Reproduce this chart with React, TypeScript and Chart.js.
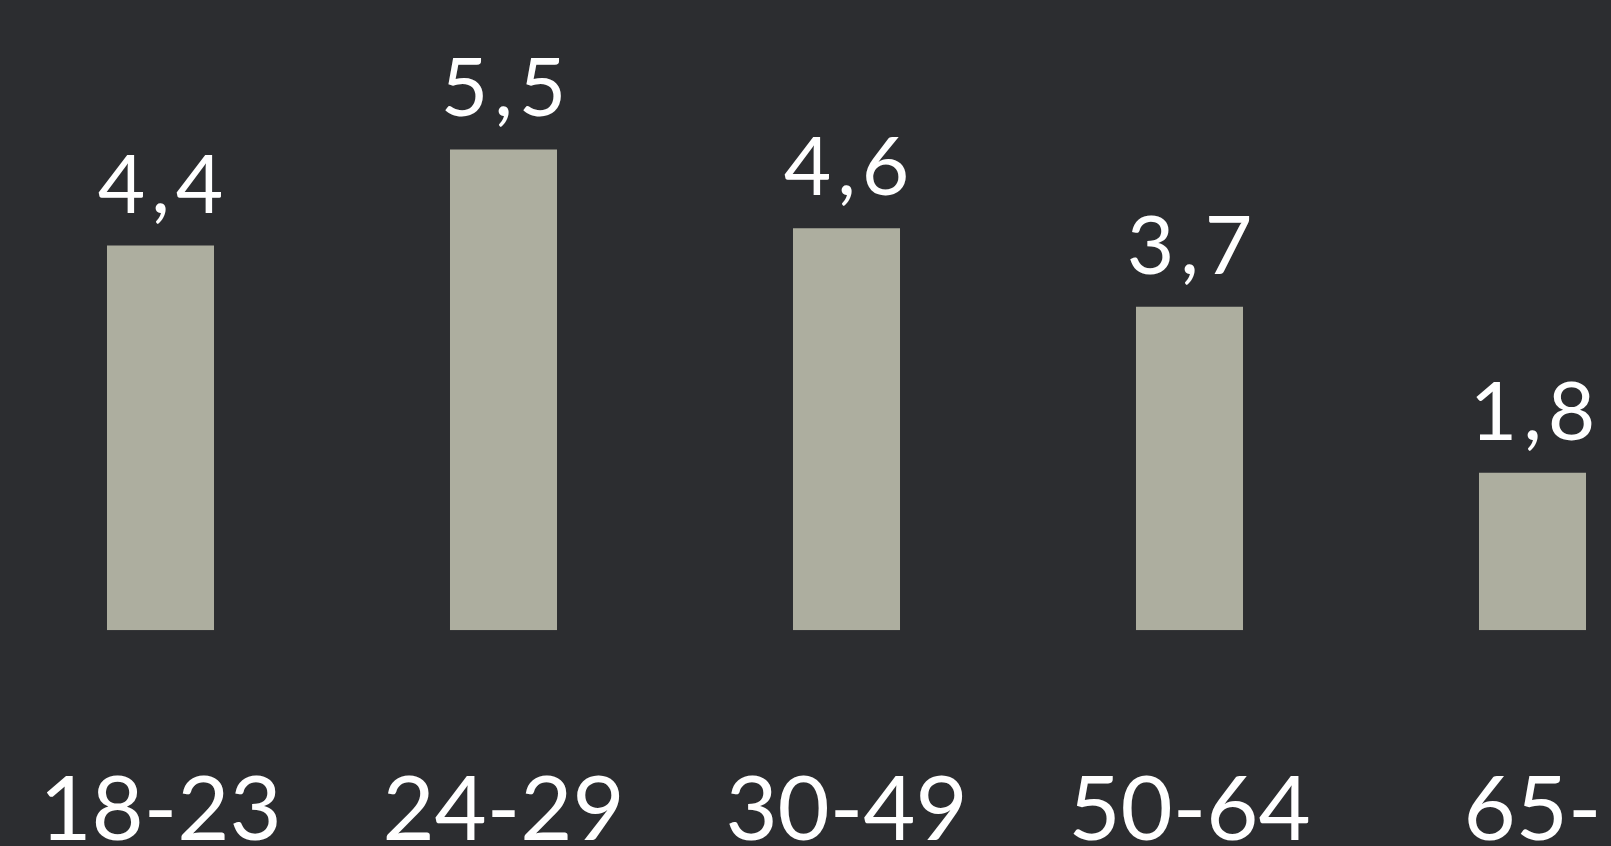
import React, { useEffect, useRef } from 'react';
import { Chart, registerables } from 'chart.js';

Chart.register(...registerables);

const categories: string[] = ['18-23', '24-29', '30-49', '50-64', '65-'];
const values: number[] = [4.4, 5.5, 4.6, 3.7, 1.8];
const yMin = 0;
const yMax = 7.21;

const valueLabelPlugin = {
  id: 'valueLabels',
  afterDatasetsDraw(chart: any) {
    const ctx = chart.ctx as CanvasRenderingContext2D;
    const meta = chart.getDatasetMeta(0);
    const data = chart.data.datasets[0].data as number[];
    ctx.save();
    ctx.font = '400 82px Lato';
    ctx.fillStyle = '#ffffff';
    ctx.textAlign = 'center';
    ctx.textBaseline = 'alphabetic';
    (ctx as any).letterSpacing = '6px';
    meta.data.forEach((bar: any, i: number) => {
      const text = data[i].toFixed(1).replace('.', ',');
      ctx.fillText(text, bar.x + 3, bar.y - 33);
    });
    ctx.restore();
  },
};

export default function App() {
  const canvasRef = useRef<HTMLCanvasElement | null>(null);

  useEffect(() => {
    if (!canvasRef.current) return;
    const chart = new Chart(canvasRef.current, {
      type: 'bar',
      data: {
        labels: categories,
        datasets: [
          {
            data: values,
            backgroundColor: '#adae9f',
            borderWidth: 0,
            categoryPercentage: 1,
            barPercentage: 0.312,
          },
        ],
      },
      options: {
        animation: false,
        responsive: true,
        maintainAspectRatio: false,
        layout: { padding: 0 },
        plugins: {
          legend: { display: false },
          title: { display: false },
          tooltip: { enabled: false },
        },
        scales: {
          x: {
            type: 'category',
            offset: true,
            grid: { display: false, drawTicks: false },
            border: { display: false },
            ticks: {
              color: '#ffffff',
              font: { family: 'Lato', size: 90, weight: 400, lineHeight: 4.02 },
              padding: 0,
              maxRotation: 0,
              autoSkip: false,
            },
          },
          y: {
            display: false,
            min: yMin,
            max: yMax,
          },
        },
      },
      plugins: [valueLabelPlugin],
    });
    return () => chart.destroy();
  }, []);

  return (
    <div
      style={{
        position: 'fixed',
        left: 0,
        top: 0,
        width: 1611,
        height: 846,
        overflow: 'hidden',
        background: '#2c2d30',
      }}
    >
      <div style={{ position: 'absolute', left: -11, top: 0, width: 1715, height: 992 }}>
        <canvas ref={canvasRef} />
      </div>
    </div>
  );
}
